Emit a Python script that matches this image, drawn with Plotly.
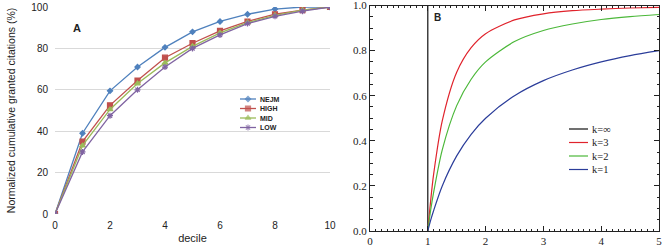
import plotly.graph_objects as go

# Panel A data
deciles = [0, 1, 2, 3, 4, 5, 6, 7, 8, 9, 10]
nejm = [0, 39, 59.5, 71, 80.5, 88, 93, 96.5, 99, 100, 100]
high = [0, 35, 52.5, 64.5, 75.5, 82.5, 88.5, 93, 96.5, 98.5, 100]
mid = [0, 33, 50.5, 63, 73, 81, 87.5, 92.5, 96, 98.5, 100]
low = [0, 30, 47.5, 60, 71, 80, 86.5, 92, 95.5, 98, 100]
a_names = ["NEJM", "HIGH", "MID", "LOW"]

# Panel B data
bx = [1, 1.05, 1.1, 1.25, 1.5, 1.75, 2, 2.5, 3, 3.5, 4, 4.5, 5]
k1 = [0, 0.048, 0.09, 0.2, 0.333, 0.429, 0.5, 0.6, 0.667, 0.714, 0.75, 0.778, 0.8]
k2 = [0, 0.093, 0.17, 0.36, 0.556, 0.673, 0.75, 0.84, 0.889, 0.918, 0.938, 0.951, 0.96]
k3 = [0, 0.136, 0.25, 0.488, 0.704, 0.813, 0.875, 0.936, 0.963, 0.977, 0.984, 0.989, 0.992]
kinf_x = [1, 1]
kinf_y = [0, 1]
b_names = ["k=∞", "k=3", "k=2", "k=1"]

W, H = 662, 247
fig = go.Figure()
sans = "Liberation Sans, Arial, sans-serif"
serif = "Liberation Serif, Times New Roman, serif"

a_cols = ["#4F81BD", "#C0504D", "#9BBB59", "#8064A2"]
a_syms = ["diamond", "square", "triangle-up", "asterisk"]
a_sizes = [4, 5, 5, 5]
for name, vals, col, sym, sz in zip(a_names, [nejm, high, mid, low], a_cols, a_syms, a_sizes):
    fig.add_trace(go.Scatter(
        x=deciles, y=vals, name=name, mode="lines+markers",
        line=dict(color=col, width=1.3),
        marker=dict(color=col, symbol=sym, size=sz,
                    line=dict(color=col, width=1.2)),
        xaxis="x", yaxis="y", showlegend=False))

b_cols = ["#111111", "#E0232C", "#4CB83A", "#2B3D9A"]
b_data = [(kinf_x, kinf_y, "linear"), (bx, k3, "spline"), (bx, k2, "spline"), (bx, k1, "spline")]
for name, (xs, ys, shp), col in zip(b_names, b_data, b_cols):
    fig.add_trace(go.Scatter(
        x=xs, y=ys, name=name, mode="lines",
        line=dict(color=col, width=1.2, shape=shp, smoothing=0.8),
        xaxis="x2", yaxis="y2", showlegend=False))

# Compact legends drawn on a pixel-space overlay axis
annotations = []
a_rows = [99, 108.5, 118, 127.5]
for name, col, sym, sz, yy in zip(a_names, a_cols, a_syms, a_sizes, a_rows):
    fig.add_trace(go.Scatter(
        x=[240, 248, 256], y=[yy, yy, yy], mode="lines+markers",
        line=dict(color=col, width=1.3),
        marker=dict(color=col, symbol=sym, size=[0, sz, 0],
                    line=dict(color=col, width=1.2)),
        xaxis="x3", yaxis="y3", showlegend=False, hoverinfo="skip"))
    annotations.append(dict(text="<b>%s</b>" % name, x=258, y=yy, xref="x3", yref="y3",
                            xanchor="left", yanchor="middle", showarrow=False,
                            font=dict(family=sans, size=7, color="#222")))
b_rows = [129, 142.5, 156, 169.5]
for name, col, yy in zip(b_names, b_cols, b_rows):
    fig.add_trace(go.Scatter(
        x=[569, 588], y=[yy, yy], mode="lines",
        line=dict(color=col, width=1.2),
        xaxis="x3", yaxis="y3", showlegend=False, hoverinfo="skip"))
    annotations.append(dict(text=name, x=590, y=yy, xref="x3", yref="y3",
                            xanchor="left", yanchor="middle", showarrow=False,
                            font=dict(family=serif, size=10.5, color="#222")))

annotations += [
    dict(text="<b>A</b>", x=77, y=28, xref="x3", yref="y3",
         showarrow=False, font=dict(family=sans, size=11, color="#222")),
    dict(text="<b>B</b>", x=437, y=17, xref="x3", yref="y3",
         showarrow=False, font=dict(family=sans, size=10, color="#222")),
]

fig.update_layout(
    width=W, height=H,
    margin=dict(l=0, r=0, t=0, b=0),
    paper_bgcolor="white", plot_bgcolor="rgba(0,0,0,0)",
    showlegend=False,
    xaxis=dict(domain=[55 / W, 330 / W], range=[0, 10], dtick=2,
               showgrid=False, zeroline=False, showline=False,
               ticks="", ticklabelstandoff=4, ticklabeloverflow="allow",
               tickfont=dict(family=sans, size=10, color="#222"),
               title=dict(text="decile", font=dict(family=sans, size=11, color="#222"),
                          standoff=4),
               automargin=False),
    yaxis=dict(domain=[1 - 214 / H, 1 - 7 / H], range=[0, 100], dtick=20,
               showgrid=True, gridcolor="#d9d9d9", gridwidth=1,
               zeroline=False, showline=False, ticks="",
               ticklabelstandoff=6, ticklabeloverflow="allow",
               tickfont=dict(family=sans, size=10, color="#222"),
               title=dict(text="Normalized cumulative granted citations (%)",
                          font=dict(family=sans, size=10.5, color="#222"), standoff=13),
               automargin=False),
    xaxis2=dict(domain=[370 / W, 659 / W], range=[0, 5], dtick=1,
                anchor="y2", showgrid=False, zeroline=False,
                showline=True, linecolor="#222", linewidth=1, mirror="ticks",
                ticks="inside", ticklen=5, tickcolor="#222", ticklabeloverflow="allow",
                minor=dict(dtick=0.1, ticklen=2.5, ticks="inside", tickcolor="#222"),
                tickfont=dict(family=serif, size=11, color="#222"), automargin=False),
    yaxis2=dict(domain=[1 - 231 / H, 1 - 5.5 / H], range=[0, 1.0], dtick=0.2,
                anchor="x2", showgrid=False, zeroline=False, tickformat=".1f",
                showline=True, linecolor="#222", linewidth=1, mirror="ticks",
                ticks="inside", ticklen=5, tickcolor="#222", ticklabeloverflow="allow",
                minor=dict(dtick=0.05, ticklen=2.5, ticks="inside", tickcolor="#222"),
                tickfont=dict(family=serif, size=11, color="#222"), automargin=False),
    xaxis3=dict(domain=[0, 1], range=[0, W], visible=False, anchor="y3", fixedrange=True),
    yaxis3=dict(domain=[0, 1], range=[H, 0], visible=False, anchor="x3", fixedrange=True),
    annotations=annotations,
)

fig.write_html("out.html", config={"displayModeBar": False},
               post_script="document.body.style.margin='0';")
